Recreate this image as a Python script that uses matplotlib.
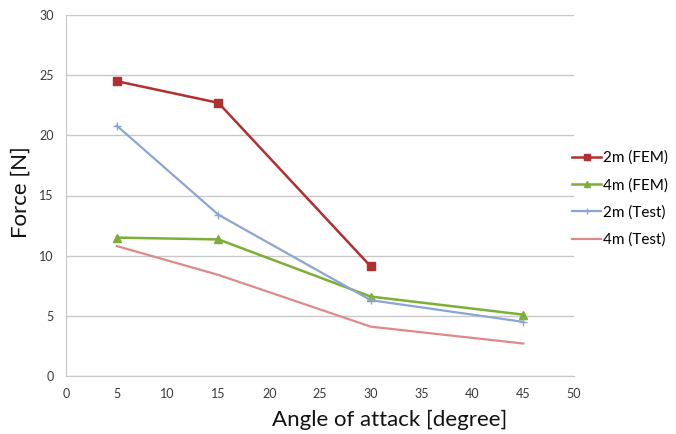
import matplotlib
matplotlib.use("Agg")
import matplotlib.pyplot as plt

plt.rcParams['font.family'] = ['Lato', 'DejaVu Sans']

angles_fem2 = [5, 15, 30]
fem_2m = [24.5, 22.7, 9.1]
angles = [5, 15, 30, 45]
fem_4m = [11.5, 11.35, 6.6, 5.1]
test_2m = [20.8, 13.4, 6.3, 4.5]
test_4m = [10.8, 8.4, 4.1, 2.7]
labels = ["2m (FEM)", "4m (FEM)", "2m (Test)", "4m (Test)"]

W, H = 676, 434
fig = plt.figure(figsize=(W/100, H/100), dpi=100)
ax = fig.add_axes([66/W, 1-376/H, (574-66)/W, (376-15)/H])

ax.plot(angles_fem2, fem_2m, color='#B22F2F', lw=1.8, marker='s', ms=5.5, label=labels[0])
ax.plot(angles, fem_4m, color='#7DAE35', lw=1.8, marker='^', ms=5.5, label=labels[1])
ax.plot(angles, test_2m, color='#8AA6D2', lw=1.6, marker='+', ms=6, label=labels[2])
ax.plot(angles, test_4m, color='#DC8A8A', lw=1.6, label=labels[3])

ax.set_xlim(0, 50)
ax.set_ylim(0, 30)
ax.set_xticks(range(0, 51, 5))
ax.set_yticks(range(0, 31, 5))
ax.yaxis.grid(True, color='#C8C8C8', lw=1)
ax.set_axisbelow(True)
for s in ['top', 'right']:
    ax.spines[s].set_visible(False)
for s in ['bottom', 'left']:
    ax.spines[s].set_color('#C8C8C8')
ax.tick_params(axis='both', length=0, labelsize=9, colors='#3A3A3A')
ax.tick_params(axis='x', pad=9)
ax.tick_params(axis='y', pad=9)

fig.text(390/W, 1-420/H, "Angle of attack [degree]", fontsize=16, color='#111111',
         ha='center', va='center')
fig.text(21/W, 1-192/H, "Force [N]", fontsize=16, color='#111111',
         ha='center', va='center', rotation=90)

ax.legend(loc='center left', bbox_to_anchor=(569/574 - 0.0, 0.0), frameon=False,
          fontsize=11, handlelength=1.9, handletextpad=0.1, labelspacing=0.85,
          borderaxespad=0, markerscale=0.8,
          bbox_transform=fig.transFigure)

leg = ax.get_legend()
leg.set_bbox_to_anchor((566/W, 1-199/H), transform=fig.transFigure)

fig.savefig("out.png", dpi=100, facecolor='white')
